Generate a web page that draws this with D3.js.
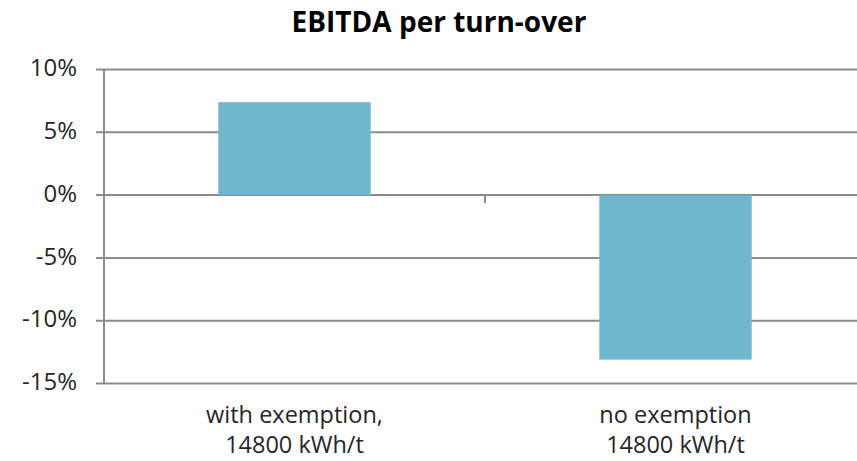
<!DOCTYPE html>
<html>
<head>
<meta charset="utf-8">
<script src="https://cdn.jsdelivr.net/npm/d3@7"></script>
<style>
  body { margin: 0; background: white; }
  svg { display: block; }
</style>
</head>
<body>
<div id="chart"></div>
<script>
// chart data
const categories = [["with exemption,", "14800 kWh/t"], ["no exemption", "14800 kWh/t"]];
const values = [7.4, -13.1];   // % EBITDA per turn-over
const yTicks = [10, 5, 0, -5, -10, -15];

const svgwidth = 857, svgheight = 461;
const margin = {top: 69.5, bottom: 77.5, left: 104, right: -9}; // plot runs a bit past the window
const font_family = "'Open Sans', 'DejaVu Sans', sans-serif";
const grid_color = "#8c8c8c";
const bar_color = "#6fb7ce";
const text_color = "#262626";

let svg = d3.select("#chart").append("svg")
    .attr("width", svgwidth)
    .attr("height", svgheight);

let xScale = d3.scaleBand()
    .domain(d3.range(categories.length))
    .range([margin.left, svgwidth - margin.right]);

let yScale = d3.scaleLinear()
    .domain([-15, 10])
    .range([svgheight - margin.bottom, margin.top]);

// gridlines + y ticks
svg.append("g").selectAll("line")
    .data(yTicks)
    .enter().append("line")
    .attr("x1", margin.left - 8)
    .attr("x2", svgwidth)
    .attr("y1", d => yScale(d))
    .attr("y2", d => yScale(d))
    .style("stroke", grid_color)
    .style("stroke-width", 2);

svg.append("g").selectAll("text")
    .data(yTicks)
    .enter().append("text")
    .text(d => d + "%")
    .attr("x", 77)
    .attr("y", d => yScale(d))
    .attr("dy", "0.28em")
    .attr("text-anchor", "end")
    .style("font-family", font_family)
    .style("font-size", "24px")
    .style("fill", text_color);

// y axis line
svg.append("line")
    .attr("x1", margin.left).attr("x2", margin.left)
    .attr("y1", yScale(10)).attr("y2", yScale(-15))
    .style("stroke", grid_color)
    .style("stroke-width", 2);

// bars
const pad = 0.3; // bar = 40% of band
svg.append("g").selectAll("rect")
    .data(values)
    .enter().append("rect")
    .attr("x", (d, i) => xScale(i) + xScale.bandwidth() * pad)
    .attr("width", xScale.bandwidth() * (1 - 2 * pad))
    .attr("y", d => yScale(Math.max(0, d)))
    .attr("height", d => Math.abs(yScale(d) - yScale(0)))
    .style("fill", bar_color);

// category ticks between bands, hanging off the zero line
svg.append("g").selectAll("line")
    .data(d3.range(1, categories.length))
    .enter().append("line")
    .attr("x1", i => xScale(i)).attr("x2", i => xScale(i))
    .attr("y1", yScale(0)).attr("y2", yScale(0) + 8)
    .style("stroke", grid_color)
    .style("stroke-width", 2);

// category labels
let labels = svg.append("g").selectAll("text")
    .data(categories)
    .enter().append("text")
    .attr("x", (d, i) => xScale(i) + xScale.bandwidth() / 2)
    .attr("y", 423)
    .attr("text-anchor", "middle")
    .style("font-family", font_family)
    .style("font-size", "23.5px")
    .style("fill", text_color);
labels.selectAll("tspan")
    .data(d => d)
    .enter().append("tspan")
    .text(d => d)
    .attr("x", function () { return this.parentNode.getAttribute("x"); })
    .attr("dy", (d, i) => i === 0 ? 0 : 30);

// title
svg.append("text")
    .text("EBITDA per turn-over")
    .attr("x", 439)
    .attr("y", 32)
    .attr("text-anchor", "middle")
    .style("font-family", font_family)
    .style("font-size", "28px")
    .style("font-weight", "bold")
    .style("fill", "#000");
</script>
</body>
</html>
